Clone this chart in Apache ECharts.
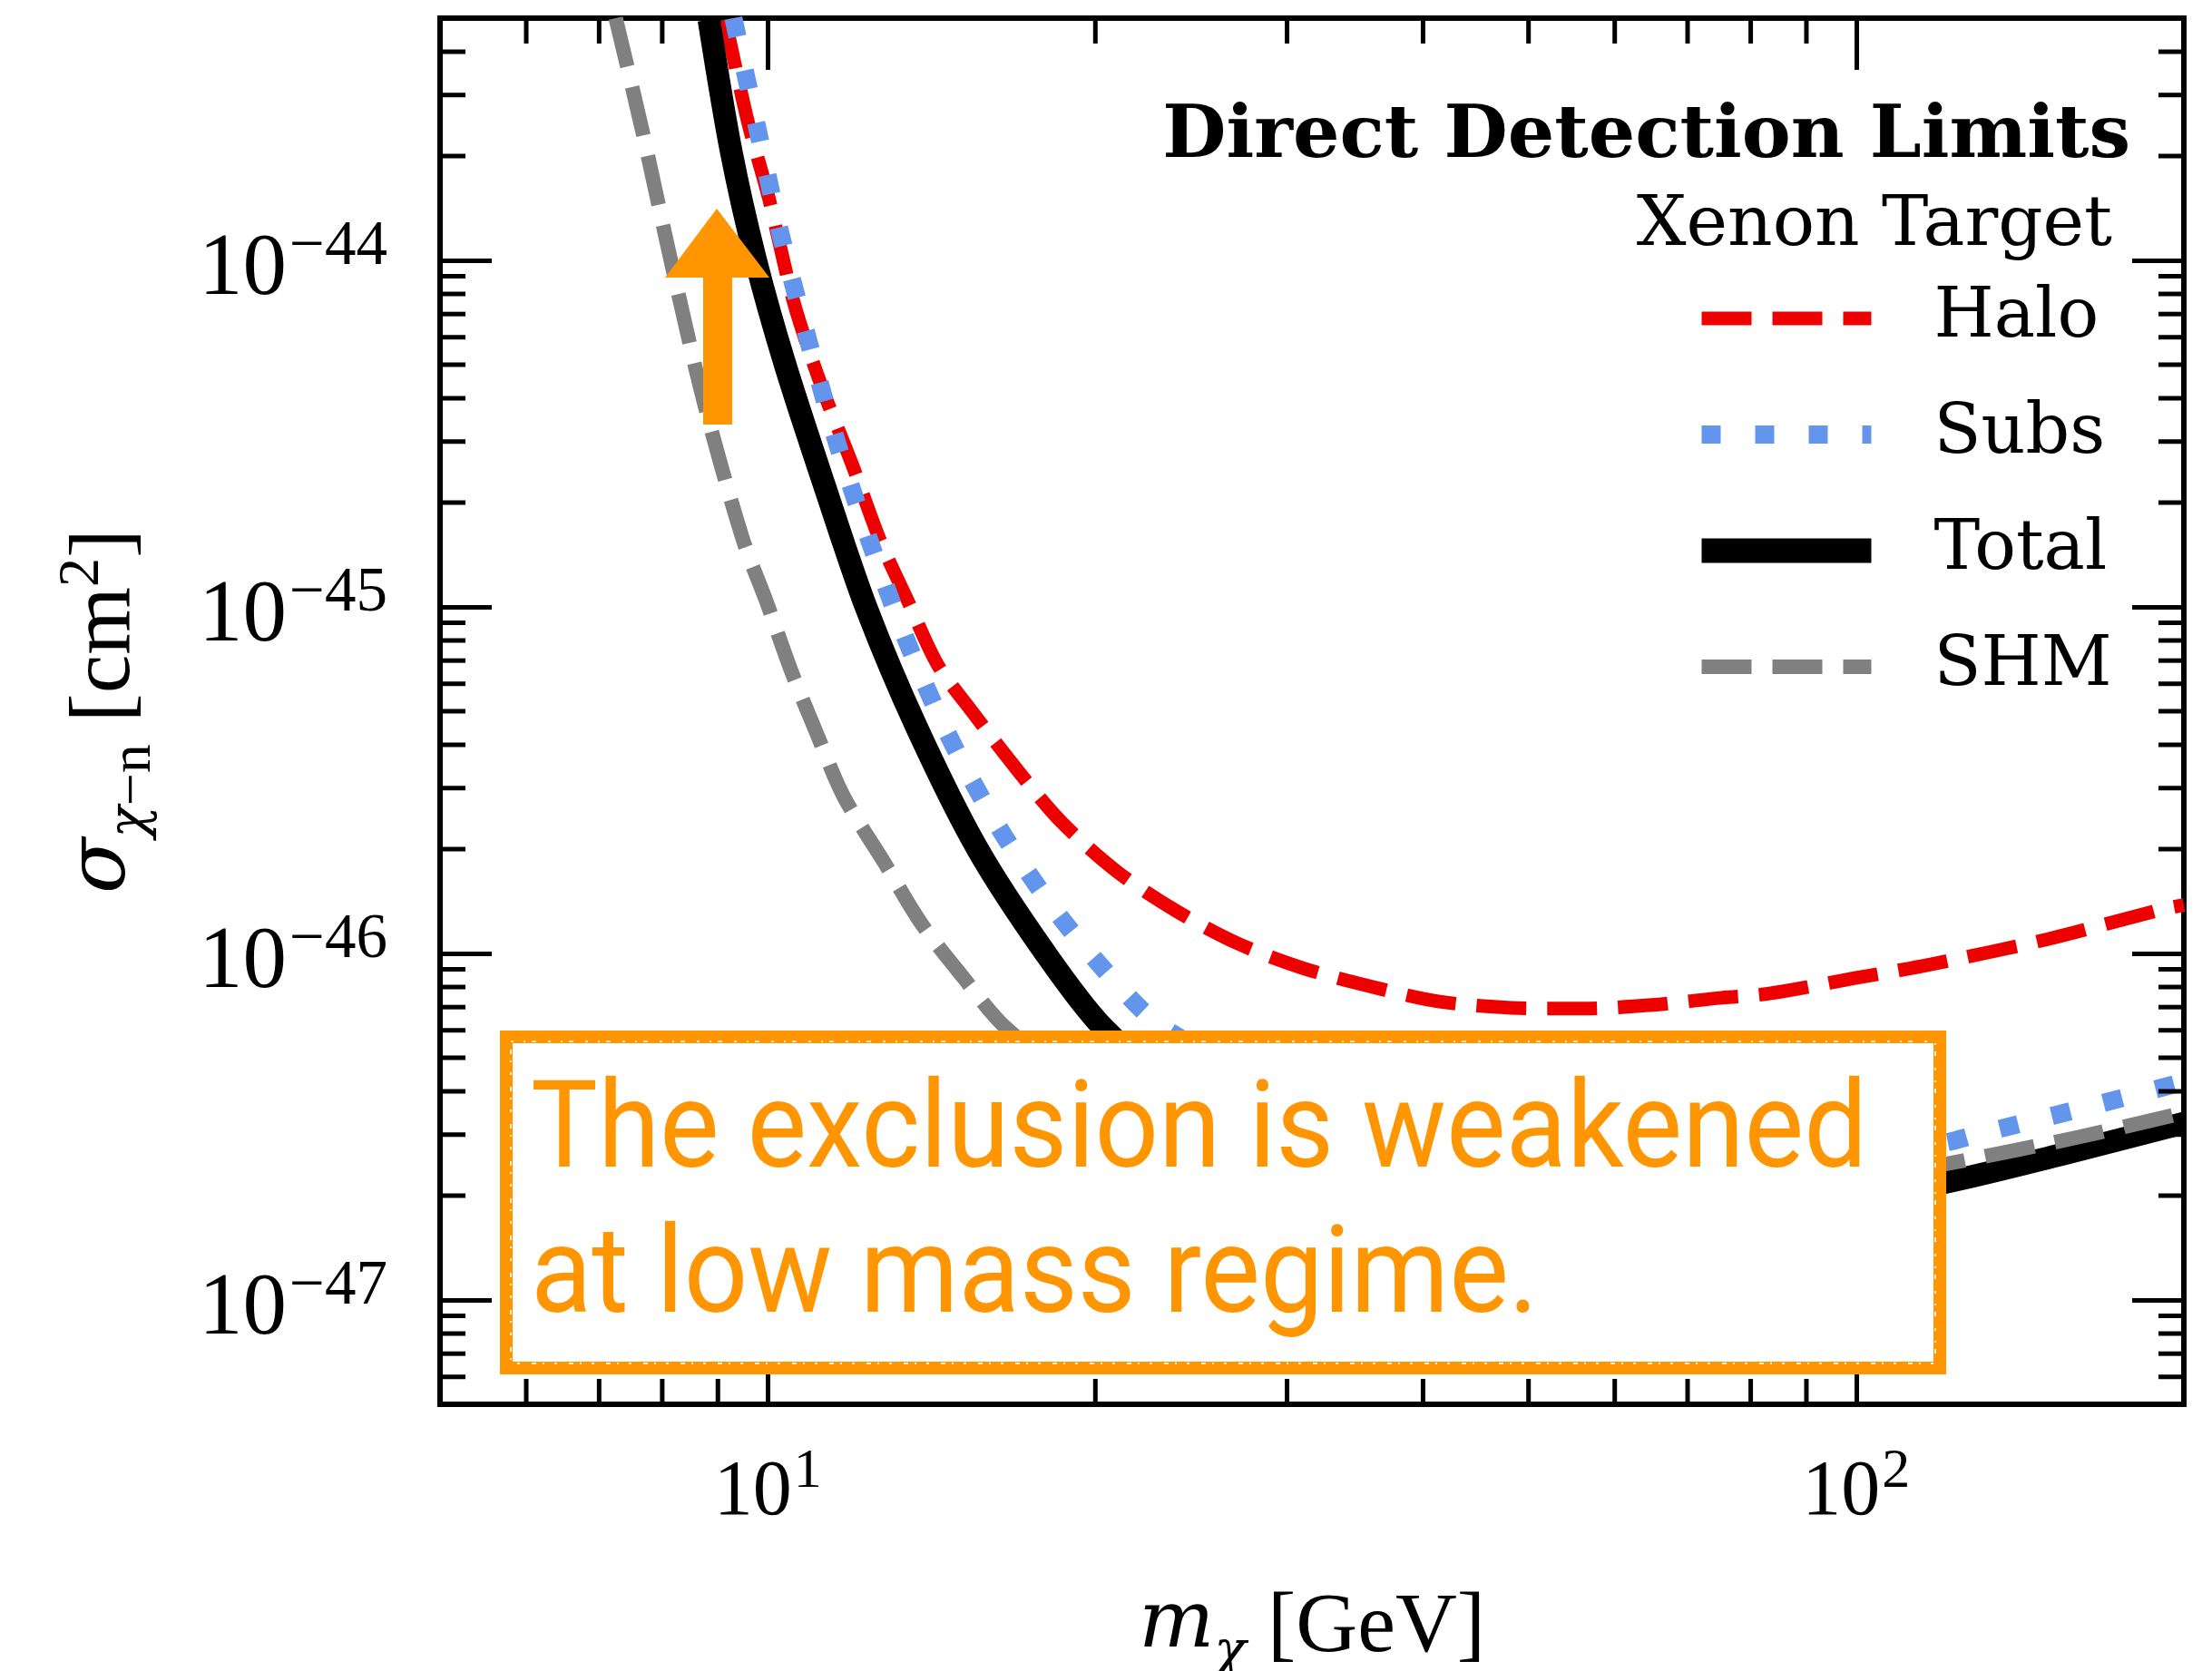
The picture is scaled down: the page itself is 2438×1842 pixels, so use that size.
<!DOCTYPE html>
<html>
<head>
<meta charset="utf-8">
<script src="https://cdn.jsdelivr.net/npm/echarts@6/dist/echarts.min.js"></script>
<style>
html,body{margin:0;padding:0;background:#fff;}
#chart{width:2438px;height:1842px;}
</style>
</head>
<body>
<div id="chart"></div>
<script>
// ---------------- data (mass in GeV, cross-section in cm^2) ----------------
const massHalo  = [9.14, 9.59, 10.02, 10.57, 11.2, 11.96, 12.69, 13.47, 14.33, 15.4, 17.0, 18.6, 20.9, 23.7, 27.0, 31.0, 35.7, 41.3, 48.2, 56.0, 64.9, 75.2, 83.0, 100, 117.3, 150, 190.8, 200];
const sigmaHalo = [4.95e-44, 2.51e-44, 1.52e-44, 7.54e-45, 4.35e-45, 2.57e-45, 1.55e-45, 1.03e-45, 6.8e-46, 5.0e-46, 3.35e-46, 2.4e-46, 1.73e-46, 1.33e-46, 1.07e-46, 9.08e-47, 8.05e-47, 7.27e-47, 6.97e-47, 6.93e-47, 7.1e-47, 7.45e-47, 7.65e-47, 8.5e-47, 9.31e-47, 1.1e-46, 1.34e-46, 1.38e-46];

const massSubs  = [9.3, 9.79, 10.27, 10.86, 11.55, 12.38, 13.37, 14.63, 16.29, 18.47, 21.36, 23.16, 30, 40, 50, 60, 80, 100, 121, 128.4, 160, 200];
const sigmaSubs = [5.0e-44, 2.38e-44, 1.2e-44, 6.1e-45, 3.05e-45, 1.58e-45, 8.2e-46, 4.31e-46, 2.32e-46, 1.30e-46, 7.62e-47, 6.07e-47, 3.9e-47, 3.0e-47, 2.65e-47, 2.5e-47, 2.5e-47, 2.62e-47, 2.85e-47, 2.99e-47, 3.55e-47, 4.26e-47];

const massTotal  = [8.83, 9.26, 9.75, 10.37, 11.27, 12.31, 13.71, 15.59, 18.0, 20.37, 25, 30, 40, 50, 60, 80, 100, 121.2, 154.4, 200];
const sigmaTotal = [4.95e-44, 2.05e-44, 1.0e-44, 5.03e-45, 2.25e-45, 1.0e-45, 4.48e-46, 2.0e-46, 1.0e-46, 6.07e-47, 3.5e-47, 2.6e-47, 2.05e-47, 1.85e-47, 1.8e-47, 1.82e-47, 1.98e-47, 2.19e-47, 2.63e-47, 3.24e-47];

const massSHM  = [7.25, 7.66, 8.17, 8.74, 9.48, 9.98, 10.51, 11.07, 11.75, 12.81, 13.84, 15.09, 16.58, 20, 25, 30, 40, 50, 60, 80, 100, 121, 160, 200];
const sigmaSHM = [5.0e-44, 2.41e-44, 9.6e-45, 3.89e-45, 1.58e-45, 1.03e-45, 6.54e-46, 4.38e-46, 2.83e-46, 1.82e-46, 1.22e-46, 8.6e-47, 6.07e-47, 3.9e-47, 2.75e-47, 2.25e-47, 1.9e-47, 1.8e-47, 1.82e-47, 1.98e-47, 2.22e-47, 2.47e-47, 2.95e-47, 3.47e-47];

const seriesNames = ['Halo', 'Subs', 'Total', 'SHM'];

// axis ranges and tick labels
const X_MIN = 5, X_MAX = 200;
const Y_MIN = 5e-48, Y_MAX = 5e-44;
const xTickExponents = [1, 2];
const yTickExponents = [-47, -46, -45, -44];
const xMinorTicks = [6, 7, 8, 9, 20, 30, 40, 50, 60, 70, 80, 90];
const yMinorMantissas = [2, 3, 4, 5, 6, 7, 8, 9];
const yDecades = [-48, -47, -46, -45, -44];

// text
const titleText = 'Direct Detection Limits';
const subtitleText = 'Xenon Target';
const noteLines = ['The exclusion is weakened', 'at low mass regime.'];

// ---------------- helpers ----------------
// cross-sections are plotted in units of 1e-48 cm^2 (labels convert back)
const Y_UNIT_EXP = -48;
const Y_UNIT = Math.pow(10, Y_UNIT_EXP);
const toPlot = s => s / Y_UNIT;
const pairs = (xs, ys) => xs.map((x, i) => [x, toPlot(ys[i])]);

const yMinorTicks = [];
yDecades.forEach(d => yMinorMantissas.forEach(m => {
  const v = m * Math.pow(10, d);
  if (v > Y_MIN * 1.0001 && v < Y_MAX * 0.9999) yMinorTicks.push(v);
}));

const ORANGE = '#FF9500';
const SERIF = 'Liberation Serif';
const SERIF2 = 'DejaVu Serif';
const MINOR_LEN = 28, MAJOR_LEN = 57, TICK_W = 5;

function expLabel(e) {
  return '{b|10}{s|' + (e < 0 ? '\u2212' + (-e) : String(e)) + '}';
}
const xTickRich = {
  b: {fontFamily: SERIF, fontSize: 86, lineHeight: 86, color: '#000', verticalAlign: 'top', padding: [11, 0, 0, 0]},
  s: {fontFamily: SERIF, fontSize: 62, lineHeight: 62, color: '#000', verticalAlign: 'top', padding: [0, 0, 0, 2]}
};
const yTickRich = {
  b: {fontFamily: SERIF, fontSize: 97, lineHeight: 97, color: '#000', verticalAlign: 'top', padding: [12, 0, 0, 0]},
  s: {fontFamily: SERIF, fontSize: 69, lineHeight: 69, color: '#000', verticalAlign: 'top', padding: [0, 0, 0, 3]}
};

const lineDefs = {
  Halo:  {color: '#EE0000', width: 15, type: [55, 23]},
  Subs:  {color: '#6495ED', width: 20, type: [21, 38]},
  Total: {color: '#000000', width: 25, type: 'solid'},
  SHM:   {color: '#808080', width: 16, type: [55, 23]}
};
const seriesData = {
  Halo: pairs(massHalo, sigmaHalo),
  Subs: pairs(massSubs, sigmaSubs),
  Total: pairs(massTotal, sigmaTotal),
  SHM: pairs(massSHM, sigmaSHM)
};

// measure the note text so it fits the annotation box width
const NOTE_FONT = 134;
const mc = document.createElement('canvas').getContext('2d');
mc.font = NOTE_FONT + 'px Roboto';
const noteScaleX = 1473 / mc.measureText(noteLines[0]).width;

const chart = echarts.init(document.getElementById('chart'), null, {renderer: 'canvas'});

const axisBase = {
  type: 'log',
  logBase: 10,
  axisLine: {show: true, lineStyle: {color: '#000', width: 6, cap: 'square'}},
  axisTick: {show: true, inside: true, length: MAJOR_LEN, lineStyle: {color: '#000', width: TICK_W}},
  minorTick: {show: false},
  splitLine: {show: false},
  minorSplitLine: {show: false}
};

const box = {x: 558, y: 1143, width: 1580, height: 365};

const option = {
  backgroundColor: '#fff',
  animation: false,
  grid: {left: 485, top: 20, width: 1922, height: 1528, containLabel: false, outerBoundsMode: 'none'},
  title: [
    {text: titleText, right: 90, top: 111, padding: 0,
     textStyle: {fontFamily: SERIF2, fontWeight: 'bold', fontSize: 81, lineHeight: 81, color: '#000'}},
    {text: subtitleText, right: 110, top: 211, padding: 0,
     textStyle: {fontFamily: SERIF2, fontWeight: 'normal', fontSize: 77, lineHeight: 77, color: '#000'}}
  ],
  legend: {
    orient: 'vertical', left: 1862, top: 306, padding: 0, itemGap: 38,
    itemWidth: 187, itemHeight: 30, selectedMode: false,
    itemStyle: {opacity: 0},
    textStyle: {fontFamily: SERIF2, fontSize: 76, lineHeight: 90, color: '#000', padding: [0, 0, 0, 64]},
    data: seriesNames.map(n => ({
      name: n,
      lineStyle: {color: lineDefs[n].color, width: n === 'Total' ? 27 : lineDefs[n].width, type: lineDefs[n].type, opacity: 1}
    }))
  },
  xAxis: [
    Object.assign({}, axisBase, {
      position: 'bottom', min: X_MIN, max: X_MAX,
      axisLabel: {
        show: true, margin: 44, hideOverlap: false,
        formatter: v => {
          const e = Math.log10(v), r = Math.round(e);
          return (Math.abs(e - r) < 1e-6 && xTickExponents.includes(r)) ? expLabel(r) : '';
        },
        rich: xTickRich
      },
      name: '{mi|m}{subi|\u03c7}{n| [GeV]}',
      nameLocation: 'middle', nameGap: 200,
      nameTextStyle: {
        rich: {
          mi: {fontFamily: SERIF2, fontStyle: 'italic', fontSize: 88, lineHeight: 92, color: '#000', verticalAlign: 'top'},
          subi: {fontFamily: SERIF2, fontStyle: 'italic', fontSize: 58, lineHeight: 60, color: '#000', verticalAlign: 'top', padding: [46, 0, 0, 0]},
          n: {fontFamily: SERIF, fontSize: 94, lineHeight: 92, color: '#000', verticalAlign: 'top'}
        }
      }
    }),
    Object.assign({}, axisBase, {position: 'top', min: X_MIN, max: X_MAX, axisLabel: {show: false}})
  ],
  yAxis: [
    Object.assign({}, axisBase, {
      position: 'left', min: toPlot(Y_MIN), max: toPlot(Y_MAX),
      axisLabel: {
        show: true, margin: 58, hideOverlap: false,
        formatter: v => {
          const e = Math.log10(v) + Y_UNIT_EXP, r = Math.round(e);
          return (Math.abs(e - r) < 1e-6 && yTickExponents.includes(r)) ? expLabel(r) : '';
        },
        rich: yTickRich
      },
      name: '{sig|\u03c3}{subi|\u03c7}{sub|\u2212n}{n| [cm}{sup|2}{n|]}',
      nameLocation: 'middle', nameGap: 334, nameRotate: 90,
      nameTextStyle: {
        rich: {
          sig: {fontFamily: SERIF2, fontStyle: 'italic', fontSize: 90, lineHeight: 92, color: '#000', verticalAlign: 'top', padding: [10, 0, 0, 0]},
          subi: {fontFamily: SERIF2, fontStyle: 'italic', fontSize: 58, lineHeight: 62, color: '#000', verticalAlign: 'top', padding: [57, 0, 0, 0]},
          sub: {fontFamily: SERIF, fontSize: 64, lineHeight: 62, color: '#000', verticalAlign: 'top', padding: [57, 0, 0, 0]},
          n: {fontFamily: SERIF, fontSize: 96, lineHeight: 92, color: '#000', verticalAlign: 'top', padding: [10, 0, 0, 0]},
          sup: {fontFamily: SERIF, fontSize: 64, lineHeight: 62, color: '#000', verticalAlign: 'top'}
        }
      }
    }),
    Object.assign({}, axisBase, {position: 'right', min: toPlot(Y_MIN), max: toPlot(Y_MAX), axisLabel: {show: false}})
  ],
  series: seriesNames.map(n => ({
    type: 'line', name: n, data: seriesData[n],
    symbol: 'none', smooth: 0.3, clip: true, z: 2,
    itemStyle: {color: lineDefs[n].color},
    lineStyle: {color: lineDefs[n].color, width: lineDefs[n].width, type: lineDefs[n].type, cap: 'butt'},
    emphasis: {disabled: true}
  })).concat([
    {
      type: 'custom', name: 'xMinorTicks', silent: true, z: 3,
      data: xMinorTicks.map(v => [v, 100]),
      renderItem: (params, api) => {
        const cs = params.coordSys;
        const px = api.coord([api.value(0), api.value(1)])[0];
        const bot = cs.y + cs.height, top = cs.y;
        const st = {stroke: '#000', lineWidth: TICK_W};
        return {type: 'group', children: [
          {type: 'line', shape: {x1: px, y1: bot, x2: px, y2: bot - MINOR_LEN}, style: st},
          {type: 'line', shape: {x1: px, y1: top, x2: px, y2: top + MINOR_LEN}, style: st}
        ]};
      }
    },
    {
      type: 'custom', name: 'yMinorTicks', silent: true, z: 3,
      data: yMinorTicks.map(v => [10, toPlot(v)]),
      renderItem: (params, api) => {
        const cs = params.coordSys;
        const py = api.coord([api.value(0), api.value(1)])[1];
        const l = cs.x, r = cs.x + cs.width;
        const st = {stroke: '#000', lineWidth: TICK_W};
        return {type: 'group', children: [
          {type: 'line', shape: {x1: l, y1: py, x2: l + MINOR_LEN, y2: py}, style: st},
          {type: 'line', shape: {x1: r, y1: py, x2: r - MINOR_LEN, y2: py}, style: st}
        ]};
      }
    }
  ]),
  graphic: {
    elements: [
      {type: 'polygon', z: 100,
       shape: {points: [[790, 230], [848, 306], [807, 306], [807, 468], [775, 468], [775, 306], [733, 306]]},
       style: {fill: ORANGE}},
      {type: 'rect', z: 100,
       shape: box,
       style: {fill: '#fff', stroke: ORANGE, lineWidth: 14}},
      // sketchy texture along the inner and outer edges of the hand-drawn frame
      {type: 'rect', z: 100,
       shape: {x: box.x + 5, y: box.y + 5, width: box.width - 10, height: box.height - 10},
       style: {fill: null, stroke: '#fff', lineWidth: 2, lineDash: [3, 11, 2, 7, 5, 13], opacity: 0.85}},
      {type: 'rect', z: 100,
       shape: {x: box.x - 6, y: box.y - 6, width: box.width + 12, height: box.height + 12},
       style: {fill: null, stroke: ORANGE, lineWidth: 2, lineDash: [6, 9, 3, 12], opacity: 0.7}},
      {type: 'text', z: 101, x: 585, y: 1252, scaleX: noteScaleX,
       style: {text: noteLines[0], font: NOTE_FONT + 'px Roboto', fill: ORANGE, textAlign: 'left', textVerticalAlign: 'middle'}},
      {type: 'text', z: 101, x: 585, y: 1412, scaleX: noteScaleX,
       style: {text: noteLines[1], font: NOTE_FONT + 'px Roboto', fill: ORANGE, textAlign: 'left', textVerticalAlign: 'middle'}}
    ]
  }
};

chart.setOption(option);
</script>
</body>
</html>
